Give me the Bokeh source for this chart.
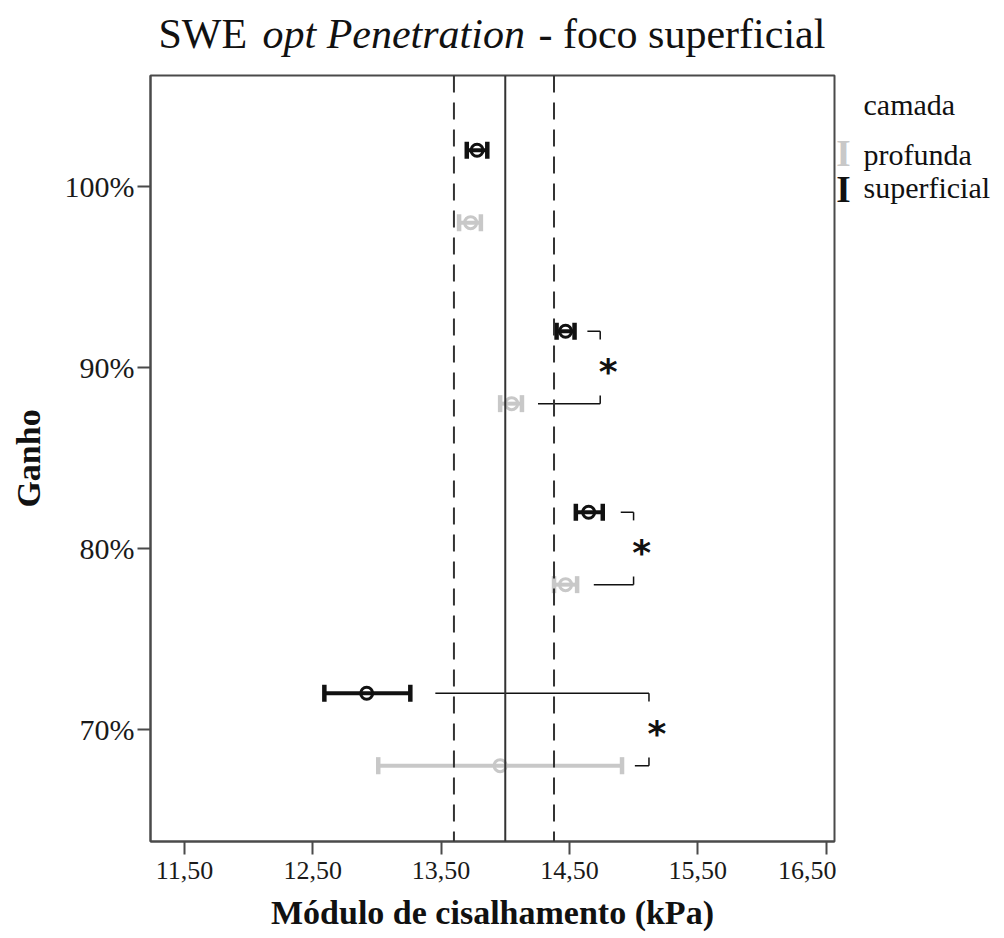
from bokeh.plotting import figure
from bokeh.layouts import column, row
from bokeh.models import Range1d, FixedTicker, ColumnDataSource, Whisker, TeeHead, Span
from bokeh.core.properties import value
from bokeh.embed import file_html
from bokeh.resources import INLINE

# ---- data ----
gains = [100, 90, 80, 70]
gain_labels = ["100%", "90%", "80%", "70%"]
sup_mean = [13.78, 14.47, 14.65, 12.92]
sup_lo = [13.70, 14.40, 14.55, 12.59]
sup_hi = [13.86, 14.54, 14.76, 13.26]
prof_mean = [13.73, 14.05, 14.47, 13.96]
prof_lo = [13.64, 13.96, 14.38, 13.01]
prof_hi = [13.81, 14.13, 14.56, 14.91]
ref_lines = [13.60, 14.00, 14.38]
ref_dashes = ["17 10", "solid", "17 10"]
x_ticks = [11.5, 12.5, 13.5, 14.5, 15.5, 16.5]
x_tick_labels = ["11,50", "12,50", "13,50", "14,50", "15,50", "16,50"]
sig_gains = [90, 80, 70]
sig_sup_start = [14.64, 14.90, 13.455]
sig_prof_start = [14.255, 14.69, 15.01]
sig_end = [14.74, 15.00, 15.12]
series_names = ["profunda", "superficial"]
legend_title = "camada"
title_parts = ["SWE", "opt Penetration", "- foco superficial"]
title_styles = ["normal", "italic", "normal"]

# ---- styling constants ----
DODGE = 2.0
SERIF = "Liberation Serif"
BLACK = "#111111"
GRAY = "#c8c8c8"
FRAME = "#4a4a4a"
TICK_H = 0.45
W, H = 1004, 938
TOP_H = 73
MAIN_W = 836
MAIN_H = H - TOP_H

def blank_fig(width, height, xr, yr):
    f = figure(width=width, height=height, x_range=xr, y_range=yr,
               output_backend="svg", toolbar_location=None,
               x_axis_type=None, y_axis_type=None, min_border=0)
    f.outline_line_color = None
    f.xgrid.visible = False
    f.ygrid.visible = False
    f.title.text = ""
    return f

# ---- main plot ----
p = figure(width=MAIN_W, height=MAIN_H,
           x_range=Range1d(11.235, 16.566), y_range=Range1d(63.81, 106.13),
           output_backend="svg", toolbar_location=None,
           min_border_left=150, min_border_right=2,
           min_border_top=2, min_border_bottom=97)
p.title.text = ""
p.xgrid.visible = False
p.ygrid.visible = False
p.outline_line_color = FRAME
p.outline_line_width = 2
p.background_fill_color = "white"
p.border_fill_color = "white"

for ax in (p.xaxis[0], p.yaxis[0]):
    ax.axis_line_color = FRAME
    ax.axis_line_width = 2
    ax.major_tick_line_color = FRAME
    ax.major_tick_line_width = 2
    ax.major_tick_out = 13
    ax.major_tick_in = 0
    ax.minor_tick_line_color = None
    ax.major_label_text_font = SERIF
    ax.major_label_text_color = "#1a1a1a"
    ax.axis_label_text_font = SERIF
    ax.axis_label_text_font_style = "bold"
    ax.axis_label_text_color = "#111111"

p.xaxis.ticker = FixedTicker(ticks=x_ticks)
p.xaxis.major_label_overrides = dict(zip(x_ticks, x_tick_labels))
p.xaxis.major_label_text_font_size = "26px"
p.xaxis.major_label_standoff = 7
p.xaxis.axis_label = "Módulo de cisalhamento (kPa)"
p.xaxis.axis_label_text_font_size = "34px"
p.xaxis.axis_label_standoff = 12

p.yaxis.ticker = FixedTicker(ticks=gains)
p.yaxis.major_label_overrides = dict(zip(gains, gain_labels))
p.yaxis.major_label_text_font_size = "30px"
p.yaxis.major_label_standoff = 3
p.yaxis.axis_label = "Ganho"
p.yaxis.axis_label_text_font_size = "34px"
p.yaxis.axis_label_standoff = 15

# ---- error bars ----
def add_series(mean, lo, hi, offset, color):
    ys = [g + offset for g in gains]
    src = ColumnDataSource(dict(y=ys, lo=lo, hi=hi, m=mean))
    w = Whisker(source=src, base="y", lower="lo", upper="hi", dimension="width",
                line_color=color, line_width=4, level="underlay",
                upper_head=TeeHead(size=17, line_color=color, line_width=4.5),
                lower_head=TeeHead(size=17, line_color=color, line_width=4.5))
    p.add_layout(w)
    p.scatter(x="m", y="y", source=src, marker="circle", size=12,
              line_color=color, line_width=3, fill_alpha=0)

add_series(prof_mean, prof_lo, prof_hi, -DODGE, GRAY)
add_series(sup_mean, sup_lo, sup_hi, DODGE, BLACK)

# ---- reference lines ----
for loc, dash in zip(ref_lines, ref_dashes):
    p.add_layout(Span(location=loc, dimension="height", line_color="#333333",
                      line_width=2, line_dash=dash, level="annotation"))

# ---- significance brackets ----
x0s, x1s, y0s, y1s = [], [], [], []
for g, xs, xp, xe in zip(sig_gains, sig_sup_start, sig_prof_start, sig_end):
    yt, yb = g + DODGE, g - DODGE
    x0s += [xs, xe, xp, xe]
    x1s += [xe, xe, xe, xe]
    y0s += [yt, yt, yb, yb]
    y1s += [yt, yt - TICK_H, yb, yb + TICK_H]
p.segment(x0=x0s, y0=y0s, x1=x1s, y1=y1s, line_color=BLACK, line_width=1.5)
p.text(x=sig_end, y=sig_gains, text=["*"] * len(sig_gains),
       text_font=value("DejaVu Sans"), text_font_style="bold",
       text_font_size="36px", text_align="center", text_baseline="alphabetic",
       x_offset=8, y_offset=4, text_color=BLACK)

# ---- title strip (page pixel coordinates) ----
t = blank_fig(W, TOP_H, Range1d(0, W), Range1d(TOP_H, 0))
for txt, style, xpos in zip(title_parts, title_styles, [158, 262, 538]):
    t.text(x=[xpos], y=[33], text=[txt], text_font=value(SERIF),
           text_font_style=style, text_font_size="42px",
           text_baseline="alphabetic", text_align="left", text_color="#111111")

# ---- legend strip (page pixel coordinates) ----
lg = blank_fig(W - MAIN_W, MAIN_H, Range1d(MAIN_W, W), Range1d(H, TOP_H))
lg.text(x=[863], y=[106], text=[legend_title], text_font=value(SERIF),
        text_font_size="30px", text_baseline="alphabetic", text_color="#111111")
lg.text(x=[843, 843], y=[161, 202], text=["I", "I"], text_font=value(SERIF),
        text_font_style="bold", text_font_size="37px", text_baseline="alphabetic",
        text_align="center", text_color=[GRAY, BLACK])
lg.text(x=[863, 863], y=[162, 200], text=series_names, text_font=value(SERIF),
        text_font_size="30px", text_baseline="alphabetic", text_color="#111111")

layout = column(t, row(p, lg))
open("out.html", "w").write(file_html(layout, INLINE))
